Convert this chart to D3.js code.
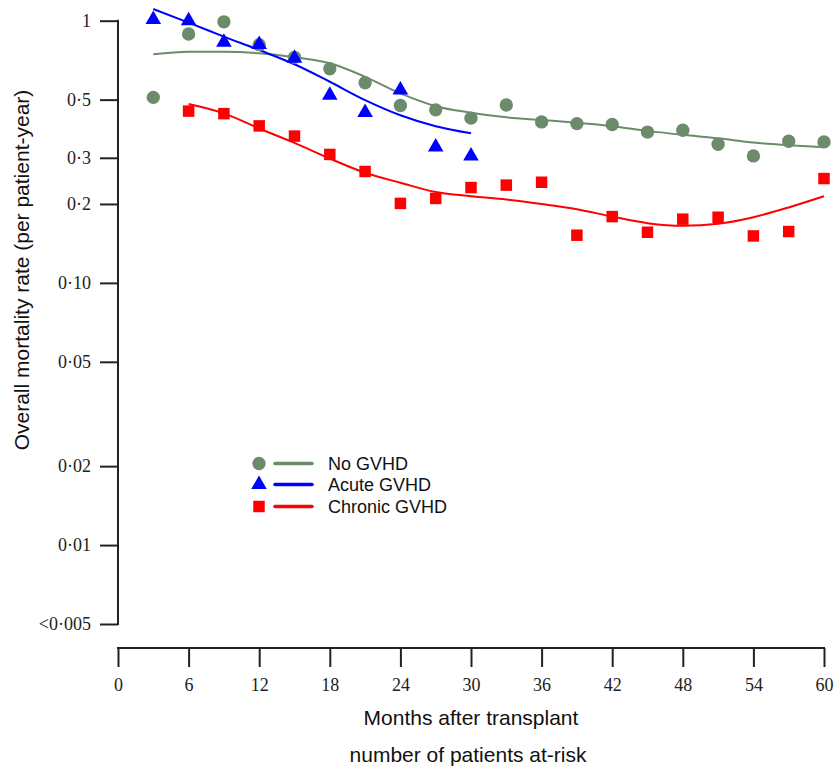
<!DOCTYPE html>
<html>
<head>
<meta charset="utf-8">
<script src="https://cdn.jsdelivr.net/npm/d3@7"></script>
<style>
  body { margin: 0; background: #fff; }
  svg { display: block; }
  .tick text { font-family: "Liberation Serif", "Times New Roman", serif; font-size: 18px; fill: #222; }
  .title { font-family: "Liberation Sans", Arial, sans-serif; font-size: 21px; fill: #111; }
  .legend text { font-family: "Liberation Sans", Arial, sans-serif; font-size: 18px; fill: #111; }
</style>
</head>
<body>
<script>
// Data (months after transplant, rate per patient-year)
const months = [3, 6, 9, 12, 15, 18, 21, 24, 27, 30, 33, 36, 39, 42, 45, 48, 51, 54, 57, 60];

const noGvhdPts = [0.51, 0.89, 0.99, 0.81, 0.725, 0.656, 0.58, 0.475, 0.457, 0.425, 0.477, 0.411, 0.405, 0.402, 0.376, 0.382, 0.338, 0.305, 0.347, 0.345];
const noGvhdFit = [0.744, 0.761, 0.761, 0.751, 0.725, 0.688, 0.611, 0.528, 0.472, 0.446, 0.428, 0.418, 0.408, 0.396, 0.38, 0.367, 0.356, 0.343, 0.335, 0.329];

const acuteMonths = [3, 6, 9, 12, 15, 18, 21, 24, 27, 30];
const acutePts = [1.01, 1.0, 0.827, 0.812, 0.719, 0.52, 0.447, 0.544, 0.33, 0.305];
const acuteFit = [1.108, 0.983, 0.869, 0.773, 0.682, 0.585, 0.498, 0.436, 0.396, 0.372];

const chronicMonths = [6, 9, 12, 15, 18, 21, 24, 27, 30, 33, 36, 39, 42, 45, 48, 51, 54, 57, 60];
const chronicPts = [0.452, 0.442, 0.397, 0.363, 0.309, 0.266, 0.201, 0.21, 0.231, 0.236, 0.242, 0.152, 0.179, 0.156, 0.175, 0.178, 0.151, 0.157, 0.25];
const chronicFit = [0.481, 0.443, 0.388, 0.342, 0.298, 0.263, 0.241, 0.222, 0.214, 0.208, 0.2, 0.191, 0.179, 0.169, 0.165, 0.168, 0.178, 0.194, 0.214];

const yTicks = [1, 0.5, 0.3, 0.2, 0.1, 0.05, 0.02, 0.01, 0.005];
const yTickLabels = ["1", "0·5", "0·3", "0·2", "0·10", "0·05", "0·02", "0·01", "<0·005"];
const xTicks = [0, 6, 12, 18, 24, 30, 36, 42, 48, 54, 60];

const legendNames = ["No GVHD", "Acute GVHD", "Chronic GVHD"];
const colors = ["#6b8b6b", "#0000ff", "#ff0000"];

const width = 838, height = 766;

const svg = d3.select("body").append("svg").attr("width", width).attr("height", height);

const x = d3.scaleLinear().domain([0, 60]).range([118, 824]);
const y = d3.scaleLog().domain([0.005, 1]).range([624, 20.7]);

// y axis
const yAxis = svg.append("g")
  .attr("transform", "translate(118,0)")
  .call(d3.axisLeft(y)
    .tickValues(yTicks)
    .tickFormat((d, i) => yTickLabels[i])
    .tickSize(18)
    .tickPadding(9)
    .tickSizeOuter(0));
yAxis.selectAll("path, line").attr("stroke", "#222").attr("stroke-width", 2);
yAxis.select(".domain").attr("d", "M0," + (y(1) - 1) + "V" + (y(0.005) + 1));

// x axis (offset below the plot)
const xAxis = svg.append("g")
  .attr("transform", "translate(0,648)")
  .call(d3.axisBottom(x)
    .tickValues(xTicks)
    .tickSize(19)
    .tickPadding(11)
    .tickSizeOuter(0));
xAxis.selectAll("path, line").attr("stroke", "#222").attr("stroke-width", 2);
xAxis.select(".domain").attr("d", "M" + (x(0) - 1) + ",0H" + (x(60) + 1));

// titles
svg.append("text").attr("class", "title")
  .attr("x", 471).attr("y", 725).attr("text-anchor", "middle")
  .text("Months after transplant");
svg.append("text").attr("class", "title")
  .attr("x", 468).attr("y", 762).attr("text-anchor", "middle")
  .text("number of patients at-risk");
svg.append("text").attr("class", "title")
  .attr("transform", "translate(29,270) rotate(-90)")
  .attr("text-anchor", "middle")
  .text("Overall mortality rate (per patient-year)");

// fitted lines
const line = d3.line()
  .x(d => x(d[0]))
  .y(d => y(d[1]))
  .curve(d3.curveMonotoneX);

const fits = [
  d3.zip(months, noGvhdFit),
  d3.zip(acuteMonths, acuteFit),
  d3.zip(chronicMonths, chronicFit)
];

svg.append("g").selectAll("path")
  .data(fits)
  .enter()
  .append("path")
  .attr("d", line)
  .attr("fill", "none")
  .attr("stroke", (d, i) => colors[i])
  .attr("stroke-width", 2);

// points
const circle = d3.symbol().type(d3.symbolCircle).size(140);
const triangle = d3.symbol().type(d3.symbolTriangle).size(105);
const square = d3.symbol().type(d3.symbolSquare).size(132);

svg.append("g").selectAll("path")
  .data(d3.zip(months, noGvhdPts))
  .enter()
  .append("path")
  .attr("d", circle)
  .attr("transform", d => "translate(" + x(d[0]) + "," + y(d[1]) + ")")
  .attr("fill", colors[0]);

svg.append("g").selectAll("path")
  .data(d3.zip(acuteMonths, acutePts))
  .enter()
  .append("path")
  .attr("d", triangle)
  .attr("transform", d => "translate(" + x(d[0]) + "," + y(d[1]) + ")")
  .attr("fill", colors[1]);

svg.append("g").selectAll("path")
  .data(d3.zip(chronicMonths, chronicPts))
  .enter()
  .append("path")
  .attr("d", square)
  .attr("transform", d => "translate(" + x(d[0]) + "," + y(d[1]) + ")")
  .attr("fill", colors[2]);

// legend
const symbols = [circle, triangle, square];
const legend = svg.append("g").attr("class", "legend");
const rows = legend.selectAll("g")
  .data(legendNames)
  .enter()
  .append("g")
  .attr("transform", (d, i) => "translate(0," + [463.5, 484.5, 506.5][i] + ")");

rows.append("path")
  .attr("d", (d, i) => symbols[i]())
  .attr("transform", "translate(259,0)")
  .attr("fill", (d, i) => colors[i]);
rows.append("line")
  .attr("x1", 275).attr("x2", 312)
  .attr("stroke", (d, i) => colors[i])
  .attr("stroke-width", 3.5)
  .attr("stroke-linecap", "round");
rows.append("text")
  .attr("x", 328).attr("dy", "0.35em")
  .text(d => d);
</script>
</body>
</html>
